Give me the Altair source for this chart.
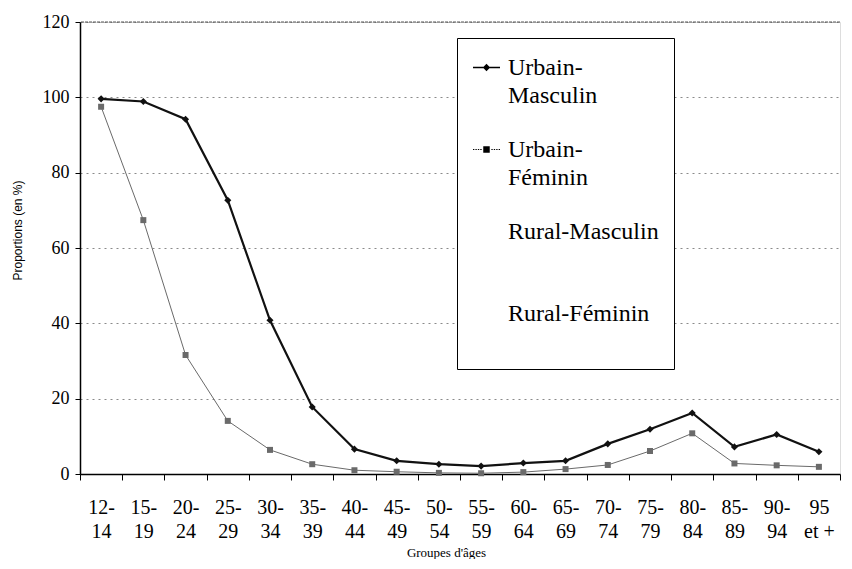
import altair as alt
import pandas as pd

categories = ["12-14", "15-19", "20-24", "25-29", "30-34", "35-39", "40-44",
              "45-49", "50-54", "55-59", "60-64", "65-69", "70-74", "75-79",
              "80-84", "85-89", "90-94", "95 et +"]
urbain_masculin = [99.6, 98.9, 94.2, 72.7, 40.8, 17.8, 6.6, 3.5, 2.6, 2.1,
                   2.9, 3.5, 8.0, 11.9, 16.2, 7.2, 10.5, 5.9]
urbain_feminin = [97.5, 67.4, 31.6, 14.1, 6.4, 2.6, 1.0, 0.6, 0.3, 0.2,
                  0.5, 1.3, 2.4, 6.1, 10.8, 2.8, 2.3, 1.9]
series_names = ["Urbain-Masculin", "Urbain-Féminin", "Rural-Masculin", "Rural-Féminin"]
y_ticks = [0, 20, 40, 60, 80, 100, 120]

rows = []
for c, a, b in zip(categories, urbain_masculin, urbain_feminin):
    rows.append({"groupe": c, "serie": series_names[0], "valeur": a})
    rows.append({"groupe": c, "serie": series_names[1], "valeur": b})
df = pd.DataFrame(rows)

FONT = "Liberation Serif"

x_enc = alt.X(
    "groupe:N", sort=categories,
    scale=alt.Scale(type="band", domain=categories, paddingInner=0, paddingOuter=0),
    axis=alt.Axis(
        title="Groupes d'âges", labelAngle=0, tickBand="extent",
        labelExpr="datum.label == '95 et +' ? ['95', 'et +'] : [slice(datum.label, 0, 3), slice(datum.label, 3)]",
        labelFont=FONT, labelFontSize=20, labelLineHeight=24, labelColor="black",
        labelPadding=17, labelBaseline="top",
        tickSize=6, tickColor="black", domainColor="black", domainWidth=1.5,
        titleFont=FONT, titleFontSize=13, titleFontWeight="normal", titleColor="black",
        titlePadding=5, titleX=366, grid=False,
    ),
)
y_scale = alt.Scale(domain=[0, 120], nice=False)
y_enc = alt.Y(
    "valeur:Q",
    scale=y_scale,
    axis=alt.Axis(
        values=y_ticks, title="Proportions (en %)",
        labelFont=FONT, labelFontSize=18, labelColor="black", labelPadding=6,
        tickSize=5, tickColor="black", domainColor="black", domainWidth=1.5,
        titleFont="Liberation Sans", titleFontSize=12, titleFontWeight="normal", titleColor="black",
        titlePadding=18, titleY=208,
        grid=True, gridColor="#8a8a8a", gridDash=[2, 4], gridWidth=1,
    ),
)

top_rule = alt.Chart(pd.DataFrame({"valeur": [max(y_ticks)]})).mark_rule(
    color="#555555", strokeDash=[3, 1], strokeWidth=1
).encode(y=alt.Y("valeur:Q", scale=y_scale))

line = alt.Chart(df).mark_line().encode(
    x=x_enc, y=y_enc,
    color=alt.Color("serie:N", scale=alt.Scale(domain=series_names[:2], range=["#111111", "#6a6a6a"]), legend=None),
    strokeWidth=alt.StrokeWidth("serie:N", scale=alt.Scale(domain=series_names[:2], range=[2.2, 1.0]), legend=None),
)

points = alt.Chart(df).mark_point(filled=True, opacity=1).encode(
    x=x_enc, y=y_enc,
    color=alt.Color("serie:N", scale=alt.Scale(domain=series_names[:2], range=["#111111", "#6a6a6a"]), legend=None),
    shape=alt.Shape("serie:N", scale=alt.Scale(domain=series_names[:2], range=["diamond", "square"]), legend=None),
    size=alt.Size("serie:N", scale=alt.Scale(domain=series_names[:2], range=[50, 36]), legend=None),
)

# legend glyphs drawn as filled paths (line + marker), unit = half symbol width
path_um = ("M-1,-0.055L1,-0.055L1,0.055L-1,0.055Z"
           "M0,-0.27L0.27,0L0,0.27L-0.27,0Z")
dots = ""
for s in [-1.0, -0.82, -0.64, -0.46, 0.36, 0.54, 0.72, 0.9]:
    dots += f"M{s:.2f},-0.04L{s + 0.1:.2f},-0.04L{s + 0.1:.2f},0.04L{s:.2f},0.04Z"
path_uf = dots + "M-0.24,-0.24L0.24,-0.24L0.24,0.24L-0.24,0.24Z"
path_none = "M0,0Z"

leg = alt.Legend(
    title=None, orient="none", legendX=377, legendY=16, direction="vertical",
    strokeColor="black", fillColor="white", padding=15,
    labelFont=FONT, labelFontSize=24, labelColor="black", labelLimit=400,
    labelExpr="datum.label == 'Urbain-Masculin' ? ['Urbain-', 'Masculin'] : datum.label == 'Urbain-Féminin' ? ['Urbain-', 'Féminin'] : [datum.label, '']",
    labelOffset=7, labelBaseline="middle",
    symbolSize=729, symbolOpacity=1,
    rowPadding=27,
)

legend_layer = alt.Chart(df).transform_filter("false").mark_point(filled=True, color="black").encode(
    x=x_enc, y=y_enc,
    shape=alt.Shape("serie:N", scale=alt.Scale(domain=series_names, range=[path_um, path_uf, path_none, path_none]), legend=leg),
)

chart = alt.layer(top_rule, line, points, legend_layer).resolve_scale(
    shape="independent"
).properties(
    width=760, height=452,
    padding={"left": 72, "top": 14, "right": 4, "bottom": 85},
    autosize=alt.AutoSizeParams(type="none"),
).configure_view(stroke=None).configure(
    background="white",
    style={"guide-label": {"lineHeight": 28, "font": FONT}},
)

chart.save("out.html", embed_options={"renderer": "svg", "actions": False})
